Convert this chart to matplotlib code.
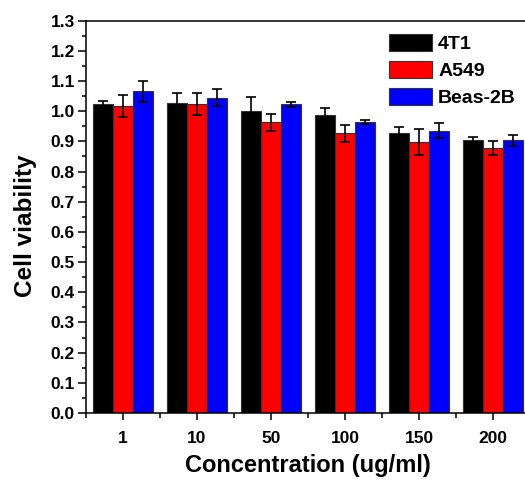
import numpy as np
import matplotlib
matplotlib.use("Agg")
import matplotlib.pyplot as plt
from matplotlib.ticker import MultipleLocator, FixedLocator

plt.rcParams["font.family"] = ["Liberation Sans", "DejaVu Sans"]
plt.rcParams["font.weight"] = "bold"

CONCENTRATIONS = ["1", "10", "50", "100", "150", "200"]
SERIES = ["4T1", "A549", "Beas-2B"]

viab_4t1 = [1.024, 1.026, 1.002, 0.988, 0.927, 0.903]
err_4t1 = [0.011, 0.035, 0.044, 0.023, 0.020, 0.011]
viab_a549 = [1.017, 1.024, 0.964, 0.927, 0.899, 0.879]
err_a549 = [0.037, 0.037, 0.028, 0.028, 0.043, 0.023]
viab_beas = [1.066, 1.045, 1.023, 0.964, 0.936, 0.903]
err_beas = [0.034, 0.028, 0.008, 0.006, 0.026, 0.019]

COLORS = ["#000000", "#ff0000", "#0000ff"]

fig = plt.figure(figsize=(5.25, 4.8), dpi=100)
ax = fig.add_axes([0.1638, 0.1396, 0.8457, 0.8173])

x = np.arange(1, len(CONCENTRATIONS) + 1)
width = 0.27
values = [viab_4t1, viab_a549, viab_beas]
errors = [err_4t1, err_a549, err_beas]

for k, (name, vals, errs, col) in enumerate(zip(SERIES, values, errors, COLORS)):
    ax.bar(x + (k - 1) * width, vals, width, color=col, edgecolor="#333333",
           linewidth=0.8, label=name, zorder=2)
    ax.errorbar(x + (k - 1) * width, vals, yerr=errs, fmt="none", ecolor="black",
                elinewidth=1.2, capsize=3.4, capthick=1.2, zorder=3)

ax.set_xlim(0.5, 6.5)
ax.set_ylim(0, 1.3)
ax.xaxis.set_major_locator(FixedLocator(x))
ax.xaxis.set_minor_locator(FixedLocator(np.arange(0.5, 7, 1.0)))
ax.set_xticklabels(CONCENTRATIONS, fontsize=12.5, fontweight="bold")
ax.yaxis.set_major_locator(MultipleLocator(0.1))
ax.yaxis.set_minor_locator(MultipleLocator(0.05))
ax.set_yticklabels([f"{v:.1f}" for v in ax.get_yticks()], fontsize=12.5, fontweight="bold")

ax.tick_params(axis="x", which="major", direction="out", length=5, width=1.1, pad=8)
ax.tick_params(axis="x", which="minor", direction="out", length=3.4, width=1.1)
ax.tick_params(axis="y", which="major", direction="out", length=5.5, width=1.1, pad=2.5)
ax.tick_params(axis="y", which="minor", direction="out", length=3, width=1.1)
for s in ax.spines.values():
    s.set_linewidth(1.1)

ax.set_xlabel("Concentration (ug/ml)", fontsize=17, fontweight="bold", labelpad=6)
ax.set_ylabel("Cell viability", fontsize=17.5, fontweight="bold")
ax.yaxis.set_label_coords(-0.11, 0.478)

ax.legend(loc="upper left", bbox_to_anchor=(0.666, 0.985), frameon=False,
          fontsize=14, handlelength=2.2, handleheight=0.95, handletextpad=0.3,
          labelspacing=0.4, borderaxespad=0)

fig.savefig("out.png", dpi=100)
